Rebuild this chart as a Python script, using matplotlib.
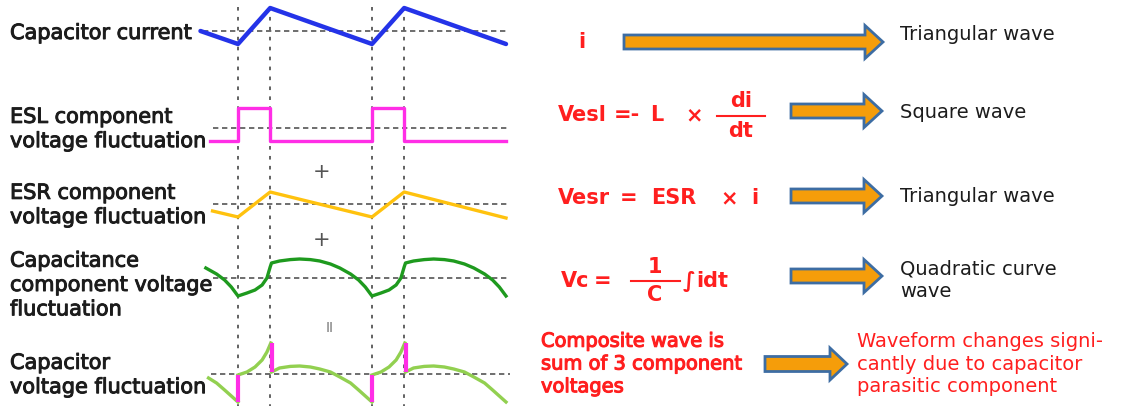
import matplotlib
matplotlib.use("Agg")
import matplotlib.pyplot as plt
import numpy as np
from matplotlib.patches import FancyArrow
import matplotlib.patheffects as pe

W, H = 1123, 408
nan = np.nan

# Time axis: one switching period = 1.0, the rising edge of the current at t = 0
switch_times = [0.0, 0.24, 1.0, 1.24]

current_t = [-0.28, 0.0, 0.24, 1.0, 1.24, 2.0]
current_v = [0.0, -0.65, 1.15, -0.65, 1.15, -0.65]

esl_t = [-0.21, 0.0, 0.0, 0.24, 0.24, 1.0, 1.0, 1.24, 1.24, 2.0]
esl_v = [-0.65, -0.65, 1.0, 1.0, -0.65, -0.65, 1.0, 1.0, -0.65, -0.65]

esr_t = [-0.19, 0.0, 0.24, 1.0, 1.24, 2.0]
esr_v = [-0.35, -0.65, 0.6, -0.65, 0.6, -0.7]

cap_t = [-0.24, -0.16, -0.10, -0.05, 0.0,
         0.067, 0.127, 0.18, 0.216, 0.24,
         0.25, 0.31, 0.39, 0.46, 0.54, 0.61, 0.69, 0.76, 0.84, 0.90, 0.95, 1.0,
         1.067, 1.127, 1.18, 1.216, 1.24,
         1.25, 1.31, 1.39, 1.46, 1.54, 1.61, 1.69, 1.76, 1.84, 1.90, 1.95, 2.0]
cap_v = [0.5, 0.2, -0.1, -0.45, -0.9,
         -0.75, -0.6, -0.35, 0.0, 0.55,
         0.75, 0.85, 0.92, 0.95, 0.92, 0.85, 0.7, 0.5, 0.2, -0.1, -0.45, -0.9,
         -0.75, -0.6, -0.35, 0.0, 0.55,
         0.75, 0.85, 0.92, 0.95, 0.92, 0.85, 0.7, 0.5, 0.2, -0.1, -0.45, -0.9]

# composite voltage: smooth pieces separated by the ESL steps
comp_t = [-0.22, -0.16, -0.10, -0.05, 0.0, nan,
          0.0, 0.067, 0.127, 0.18, 0.216, 0.245, nan,
          0.25, 0.31, 0.39, 0.46, 0.54, 0.61, 0.69, 0.76, 0.84, 0.90, 0.95, 1.0, nan,
          1.0, 1.067, 1.127, 1.18, 1.216, 1.245, nan,
          1.25, 1.31, 1.39, 1.46, 1.54, 1.61, 1.69, 1.76, 1.84, 1.90, 1.95, 2.0]
comp_v = [-0.2, -0.45, -0.8, -1.1, -1.4, nan,
          -0.05, 0.1, 0.35, 0.7, 1.1, 1.55, nan,
          0.1, 0.3, 0.38, 0.4, 0.35, 0.25, 0.1, -0.15, -0.45, -0.8, -1.1, -1.4, nan,
          -0.05, 0.1, 0.35, 0.7, 1.1, 1.55, nan,
          0.1, 0.3, 0.38, 0.4, 0.35, 0.25, 0.1, -0.15, -0.45, -0.8, -1.1, -1.4]
step_t = [0.0, 0.25, 1.0, 1.25]
step_lo = [-1.4, 0.1, -1.4, 0.1]
step_hi = [-0.05, 1.55, -0.05, 1.55]

row_labels = ["Capacitor current",
              "ESL component\nvoltage fluctuation",
              "ESR component\nvoltage fluctuation",
              "Capacitance\ncomponent voltage\nfluctuation",
              "Capacitor\nvoltage fluctuation"]
result_labels = ["Triangular wave", "Square wave", "Triangular wave", "Quadratic curve\nwave"]

BLUE = "#2433e8"
MAGENTA = "#ff2ee6"
YELLOW = "#ffc20e"
GREEN = "#1e9a1e"
LIGHT_GREEN = "#92d050"
RED = "#ff1f1f"
ORANGE = "#f59d0a"
EDGE = "#3d6da3"
GRID = "#555555"
TEXT = "#1c1c1c"

fig = plt.figure(figsize=(W / 100, H / 100), dpi=100)

# canvas axes in pixel units for the labels and arrows
canvas = fig.add_axes([0, 0, 1, 1])
canvas.set_xlim(0, W)
canvas.set_ylim(H, 0)
canvas.axis("off")

# waveform column
x0_px, x1_px = 190, 520
t_per_px = 1 / 134
t_lo = (x0_px - 238) * t_per_px
t_hi = (x1_px - 238) * t_per_px


def row_axes(baseline_px):
    ax = fig.add_axes([x0_px / W, (H - baseline_px - 30) / H, (x1_px - x0_px) / W, 60 / H])
    ax.set_xlim(t_lo, t_hi)
    ax.set_ylim(-1.5, 1.5)
    ax.axis("off")
    ax.patch.set_alpha(0)
    return ax


overlay = fig.add_axes([x0_px / W, 0, (x1_px - x0_px) / W, 1])
overlay.set_xlim(t_lo, t_hi)
overlay.set_ylim(H, 0)
overlay.axis("off")
overlay.patch.set_alpha(0)
overlay.vlines(switch_times, 7, 406, colors=GRID, linestyles=(0, (2, 3.5)), lw=1.3)

dash = (0, (3.2, 2.2))

ax = row_axes(31)
ax.hlines(0, -0.26, 2.01, colors=GRID, linestyles=dash, lw=1.2)
ax.plot(current_t, current_v, color=BLUE, lw=3.2, solid_capstyle="round", clip_on=False)

ax = row_axes(128)
ax.hlines(0, -0.19, 2.01, colors=GRID, linestyles=dash, lw=1.2)
ax.plot(esl_t, esl_v, color=MAGENTA, lw=2.4, clip_on=False)

ax = row_axes(204)
ax.hlines(0, -0.19, 2.01, colors=GRID, linestyles=dash, lw=1.2)
ax.plot(esr_t, esr_v, color=YELLOW, lw=2.4, clip_on=False)

ax = row_axes(278)
ax.hlines(0, -0.19, 2.01, colors=GRID, linestyles=dash, lw=1.2)
ax.plot(cap_t, cap_v, color=GREEN, lw=2.4, clip_on=False)

ax = row_axes(374)
ax.hlines(0, -0.2, 2.03, colors=GRID, linestyles=dash, lw=1.2)
ax.plot(comp_t, comp_v, color=LIGHT_GREEN, lw=2.4, clip_on=False)
ax.vlines(step_t, step_lo, step_hi, colors=MAGENTA, lw=3, clip_on=False)

# operators between the rows
canvas.text(322, 172, "+", fontsize=15, color="#555555", ha="center", va="center")
canvas.text(322, 240, "+", fontsize=15, color="#555555", ha="center", va="center")
canvas.text(330, 328, "II", fontsize=10, color="#777777", ha="center", va="center")

semi = [pe.withStroke(linewidth=0.7, foreground=TEXT)]
semi_red = [pe.withStroke(linewidth=0.8, foreground=RED)]

# row labels on the left
for label, y in zip(row_labels, [33, 129, 205, 285, 375]):
    canvas.text(10, y, label, fontsize=15, color=TEXT, ha="left", va="center", linespacing=1.27,
                path_effects=semi)


def block_arrow(x_start, x_end, y, body=14, head=33, head_len=18):
    canvas.add_patch(FancyArrow(x_start, y, x_end - x_start, 0, width=body, head_width=head,
                                head_length=head_len, length_includes_head=True,
                                facecolor=ORANGE, edgecolor=EDGE, lw=2, zorder=3))


block_arrow(624, 883, 42)
block_arrow(791, 882, 111)
block_arrow(791, 882, 196)
block_arrow(791, 882, 276)
block_arrow(765, 847, 364, body=15, head=32, head_len=17)

# right-hand descriptions
for label, y in zip(result_labels, [35, 113, 197, 280]):
    canvas.text(900, y, label, fontsize=14, color=TEXT, ha="left", va="center", linespacing=1.25)

fkw = dict(color=RED, fontsize=15, fontweight="bold", va="center")
canvas.text(582, 42, "i", ha="center", **fkw)

# Vesl = -L x di/dt
canvas.text(558, 115, "Vesl", ha="left", **fkw)
canvas.text(614, 115, "=-", ha="left", **fkw)
canvas.text(650, 115, "L", ha="left", **fkw)
canvas.text(685, 115, "×", ha="left", **fkw)
canvas.text(741, 101, "di", ha="center", **fkw)
canvas.text(741, 131, "dt", ha="center", **fkw)
canvas.plot([717, 765], [116, 116], color=RED, lw=1.5)

# Vesr = ESR x i
canvas.text(558, 198, "Vesr", ha="left", **fkw)
canvas.text(620, 198, "=", ha="left", **fkw)
canvas.text(651, 198, "ESR", ha="left", **fkw)
canvas.text(720, 198, "×", ha="left", **fkw)
canvas.text(755, 198, "i", ha="center", **fkw)

# Vc = 1/C * integral i dt
canvas.text(561, 281, "Vc", ha="left", **fkw)
canvas.text(594, 281, "=", ha="left", **fkw)
canvas.text(655, 267, "1", ha="center", **fkw)
canvas.text(655, 295, "C", ha="center", **fkw)
canvas.plot([631, 680], [281, 281], color=RED, lw=1.5)
canvas.text(683, 281, "∫", ha="left", **fkw)
canvas.text(696, 281, "idt", ha="left", **fkw)

canvas.text(541, 364, "Composite wave is\nsum of 3 component\nvoltages", color=RED, fontsize=14,
            ha="left", va="center", linespacing=1.25, path_effects=semi_red)
canvas.text(857, 364, "Waveform changes signi-\ncantly due to capacitor\nparasitic component", color=RED,
            fontsize=14, ha="left", va="center", linespacing=1.25)

fig.savefig("out.png", dpi=100, facecolor="white")
